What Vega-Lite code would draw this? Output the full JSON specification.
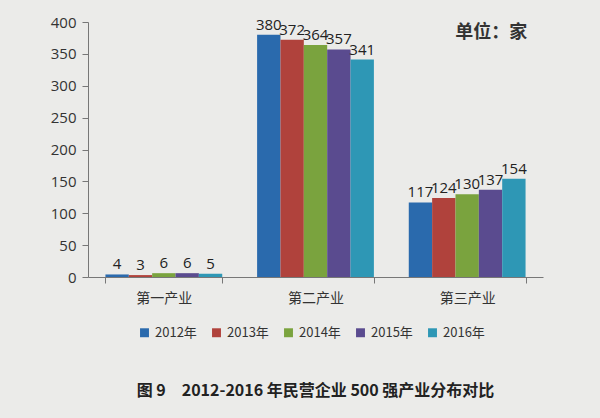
{
  "$schema": "https://vega.github.io/schema/vega-lite/v6.json",
  "autosize": {"type": "none"},
  "width": 455,
  "height": 255,
  "padding": {"left": 88, "top": 22, "right": 57, "bottom": 141},
  "background": "#ebebe9",
  "config": {
    "view": {"stroke": null},
    "font": "Noto Sans CJK SC"
  },
  "title": {
    "text": "图 9　2012-2016 年民营企业 500 强产业分布对比",
    "orient": "bottom",
    "anchor": "middle",
    "offset": 43,
    "fontSize": 16,
    "fontWeight": "bold",
    "color": "#222222",
    "font": "Noto Sans CJK SC"
  },
  "datasets": {
    "main": [
      {"industry": "第一产业", "year": "2012年", "count": 4},
      {"industry": "第一产业", "year": "2013年", "count": 3},
      {"industry": "第一产业", "year": "2014年", "count": 6},
      {"industry": "第一产业", "year": "2015年", "count": 6},
      {"industry": "第一产业", "year": "2016年", "count": 5},
      {"industry": "第二产业", "year": "2012年", "count": 380},
      {"industry": "第二产业", "year": "2013年", "count": 372},
      {"industry": "第二产业", "year": "2014年", "count": 364},
      {"industry": "第二产业", "year": "2015年", "count": 357},
      {"industry": "第二产业", "year": "2016年", "count": 341},
      {"industry": "第三产业", "year": "2012年", "count": 117},
      {"industry": "第三产业", "year": "2013年", "count": 124},
      {"industry": "第三产业", "year": "2014年", "count": 130},
      {"industry": "第三产业", "year": "2015年", "count": 137},
      {"industry": "第三产业", "year": "2016年", "count": 154}
    ],
    "unit": [
      {"industry": "第三产业", "count": 383, "label": "单位：家"}
    ]
  },
  "layer": [
    {
      "data": {"name": "main"},
      "mark": {"type": "bar"},
      "encoding": {
        "x": {
          "field": "industry",
          "type": "nominal",
          "sort": ["第一产业", "第二产业", "第三产业"],
          "scale": {"paddingInner": 0.23, "paddingOuter": 0.115},
          "axis": {
            "title": null,
            "labelAngle": 0,
            "labelFontSize": 14,
            "labelColor": "#333333",
            "labelPadding": 8,
            "domainColor": "#777777",
            "tickColor": "#777777",
            "tickBand": "extent",
            "tickExtra": true,
            "tickSize": 6
          }
        },
        "xOffset": {
          "field": "year",
          "type": "nominal",
          "scale": {"paddingInner": 0, "paddingOuter": 0}
        },
        "y": {
          "field": "count",
          "type": "quantitative",
          "scale": {"domain": [0, 400]},
          "axis": {
            "title": null,
            "values": [0, 50, 100, 150, 200, 250, 300, 350, 400],
            "grid": false,
            "labelFontSize": 15,
            "labelColor": "#333333",
            "labelFont": "Open Sans",
            "domainColor": "#777777",
            "tickColor": "#777777",
            "tickSize": 6,
            "labelPadding": 6
          }
        },
        "color": {
          "field": "year",
          "type": "nominal",
          "scale": {
            "domain": ["2012年", "2013年", "2014年", "2015年", "2016年"],
            "range": ["#2a6aad", "#b0423c", "#7aa33e", "#5a4b8f", "#2e97b5"]
          },
          "legend": {
            "title": null,
            "orient": "none",
            "legendX": 50,
            "legendY": 304,
            "direction": "horizontal",
            "symbolType": "square",
            "symbolSize": 80,
            "symbolStrokeWidth": 0,
            "labelFontSize": 13,
            "labelColor": "#333333",
            "columnPadding": 13
          }
        }
      }
    },
    {
      "data": {"name": "main"},
      "mark": {"type": "text", "dy": -10, "fontSize": 15, "color": "#222222", "font": "Open Sans"},
      "encoding": {
        "x": {"field": "industry", "type": "nominal", "sort": ["第一产业", "第二产业", "第三产业"]},
        "xOffset": {"field": "year", "type": "nominal"},
        "y": {
          "field": "count",
          "type": "quantitative",
          "axis": {
            "title": null,
            "values": [0, 50, 100, 150, 200, 250, 300, 350, 400],
            "grid": false,
            "labelFontSize": 15,
            "labelColor": "#333333",
            "labelFont": "Open Sans",
            "domainColor": "#777777",
            "tickColor": "#777777",
            "tickSize": 6,
            "labelPadding": 6
          }
        },
        "text": {"field": "count", "type": "quantitative"}
      }
    },
    {
      "data": {"name": "unit"},
      "mark": {"type": "text", "fontSize": 18, "fontWeight": "bold", "color": "#333333", "dx": 24},
      "encoding": {
        "x": {"field": "industry", "type": "nominal", "sort": ["第一产业", "第二产业", "第三产业"]},
        "y": {
          "field": "count",
          "type": "quantitative",
          "axis": {
            "title": null,
            "values": [0, 50, 100, 150, 200, 250, 300, 350, 400],
            "grid": false,
            "labelFontSize": 15,
            "labelColor": "#333333",
            "labelFont": "Open Sans",
            "domainColor": "#777777",
            "tickColor": "#777777",
            "tickSize": 6,
            "labelPadding": 6
          }
        },
        "text": {"field": "label", "type": "nominal"}
      }
    }
  ]
}
